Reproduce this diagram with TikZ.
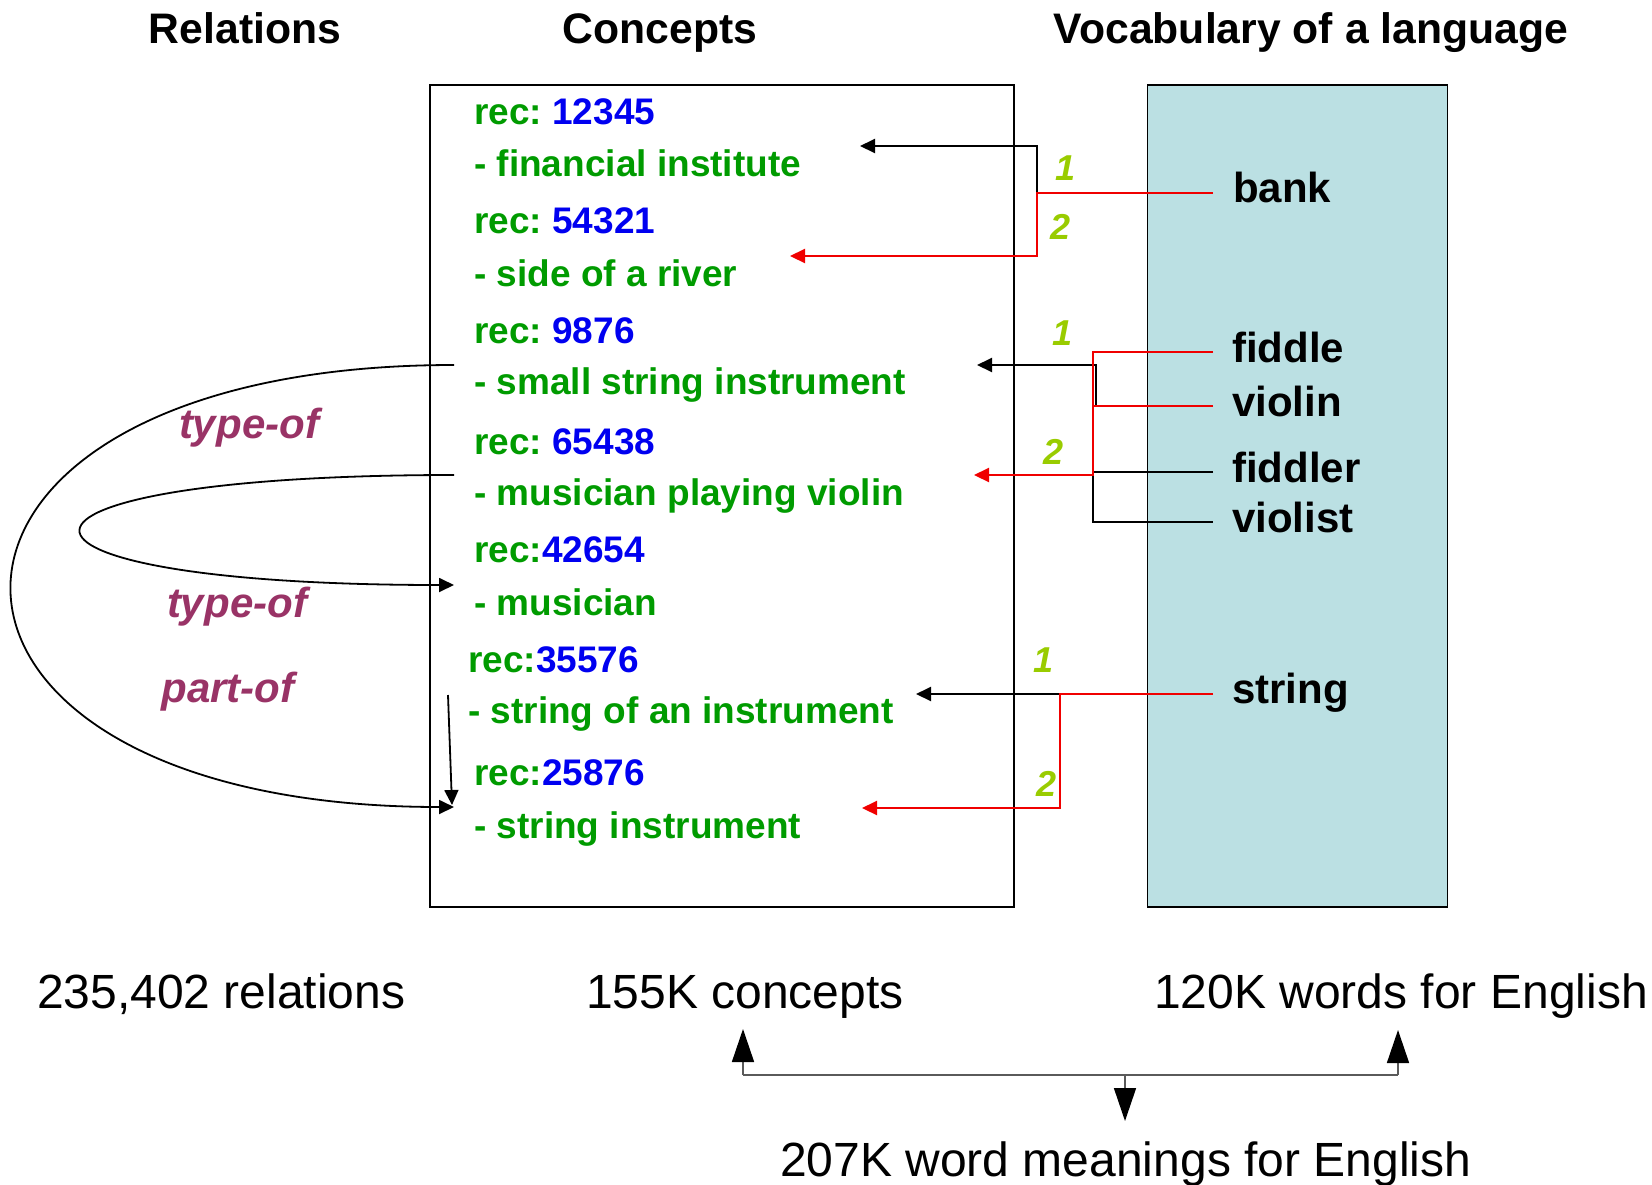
\documentclass[tikz,border=0pt]{standalone}
\usepackage{fontspec}
\setmainfont{Liberation Sans}
\usetikzlibrary{arrows.meta}
\frenchspacing
\definecolor{cgreen}{RGB}{0,155,0}
\definecolor{cblue}{RGB}{0,0,240}
\definecolor{cnum}{RGB}{153,204,0}
\definecolor{crel}{RGB}{153,51,102}
\definecolor{vocfill}{RGB}{187,224,227}
\definecolor{cred}{RGB}{240,0,0}
\definecolor{cgrey}{RGB}{90,90,90}
\tikzset{
  concept/.style={anchor=base west, inner sep=0pt, text=cgreen, font=\fontsize{37}{40}\selectfont\bfseries},
  word/.style={anchor=base west, inner sep=0pt, font=\fontsize{42}{46}\selectfont\bfseries},
  header/.style={anchor=base, inner sep=0pt, font=\fontsize{42.7}{46}\selectfont\bfseries},
  stat/.style={anchor=base west, inner sep=0pt, font=\fontsize{48}{52}\selectfont},
  num/.style={inner sep=0pt, text=cnum, font=\fontsize{36}{40}\selectfont\bfseries\itshape},
  rel/.style={inner sep=0pt, text=crel, font=\fontsize{42}{46}\selectfont\bfseries\itshape},
  blkarrow/.style={draw=black, line width=2pt, -{Triangle[length=15pt,width=14pt]}},
  redarrow/.style={draw=cred, line width=2.2pt, -{Triangle[length=15pt,width=14pt]}},
  blkline/.style={draw=black, line width=2pt},
  redline/.style={draw=cred, line width=2.2pt},
  relarrow/.style={draw=black, line width=1.8pt, -{Triangle[length=15pt,width=14pt]}},
  bigarrow/.style={draw=cgrey, line width=1.6pt, -{Triangle[length=33pt,width=22pt,color=black]}},
}
\begin{document}
\begin{tikzpicture}[x=1pt,y=-1pt]
\useasboundingbox (0,0) rectangle (1652,1184);

% headers
\node[header] (hrel) at (245,43) {Relations};
\node[header] (hcon) at (660,43) {Concepts};
\node[header] (hvoc) at (1311,43) {Vocabulary of a language};

% boxes
\node[draw, line width=1.8pt, minimum width=584pt, minimum height=822pt, inner sep=0pt, anchor=north west] (cbox) at (429,84) {};
\node[draw, fill=vocfill, line width=1.8pt, minimum width=300pt, minimum height=822pt, inner sep=0pt, anchor=north west] (vbox) at (1146.5,84) {};

% concept texts
\node[concept] (r1) at (474,124) {rec: \textcolor{cblue}{12345}};
\node[concept] (d1) at (474,176) {- financial institute};
\node[concept] (r2) at (474,233) {rec: \textcolor{cblue}{54321}};
\node[concept] (d2) at (474,286) {- side of a river};
\node[concept] (r3) at (474,343) {rec: \textcolor{cblue}{9876}};
\node[concept] (d3) at (474,394) {- small string instrument};
\node[concept] (r4) at (474,454) {rec: \textcolor{cblue}{65438}};
\node[concept] (d4) at (474,505) {- musician playing violin};
\node[concept] (r5) at (474,562) {rec:\textcolor{cblue}{42654}};
\node[concept] (d5) at (474,615) {- musician};
\node[concept] (r6) at (468,672) {rec:\textcolor{cblue}{35576}};
\node[concept] (d6) at (468,723) {- string of an instrument};
\node[concept] (r7) at (474,785) {rec:\textcolor{cblue}{25876}};
\node[concept] (d7) at (474,838) {- string instrument};

% vocabulary words
\node[word] (wbank) at (1233,202) {bank};
\node[word] (wfiddle) at (1232,362) {fiddle};
\node[word] (wviolin) at (1232,416) {violin};
\node[word] (wfiddler) at (1232,482) {fiddler};
\node[word] (wviolist) at (1232,532) {violist};
\node[word] (wstring) at (1232,703) {string};

% connector coordinates
\coordinate (bankE) at (1213,193);
\coordinate (bankJ) at (1037,193);
\coordinate (t1) at (860,146);
\coordinate (t2) at (790,256);
\coordinate (fiddleE) at (1213,352);
\coordinate (violinE) at (1213,406);
\coordinate (violinJ) at (1093,406);
\coordinate (violinJb) at (1096,406);
\coordinate (fJ) at (1093,475);
\coordinate (t3) at (977,365);
\coordinate (t4) at (974,475);
\coordinate (fiddlerE) at (1213,472);
\coordinate (violistE) at (1213,522);
\coordinate (violistJ) at (1093,522);
\coordinate (stringE) at (1213,694);
\coordinate (stringJb) at (1088,694);
\coordinate (stringJ) at (1060,808);
\coordinate (t5) at (916,694);
\coordinate (t6) at (862,808);

% bank
\draw[blkarrow] (bankJ) |- (t1);
\draw[redarrow] (bankE) -- (bankJ) |- (t2);
% fiddle / violin / fiddler / violist
\draw[blkarrow] (violinJb) |- (t3);
\draw[blkline] (fiddlerE) -| (violistJ) -- (violistE);
\draw[redarrow] (fiddleE) -| (fJ) -- (t4);
\draw[redline] (violinE) -- (violinJ);
% string
\draw[blkarrow] (stringJb) -- (t5);
\draw[redarrow] (stringE) -| (stringJ) -- (t6);

% sense numbers
\node[num] (n1a) at (1065,168) {1};
\node[num] (n1b) at (1060,227) {2};
\node[num] (n2a) at (1062,333) {1};
\node[num] (n2b) at (1053,452) {2};
\node[num] (n3a) at (1043,660) {1};
\node[num] (n3b) at (1046,784) {2};

% relations
\coordinate (s3) at (454,365);
\coordinate (s4) at (454,475);
\coordinate (e5) at (454,585);
\coordinate (e7) at (454,807);
\coordinate (s6) at (448,695);
\coordinate (e7b) at (452,805);
\draw[relarrow] (s3) .. controls (-135,365) and (-135,807) .. (e7);
\draw[relarrow] (s4) .. controls (-43,475) and (-43,585) .. (e5);
\draw[relarrow] (s6) -- (e7b);
\node[rel] (l1) at (249,428) {type-of};
\node[rel] (l2) at (237,607) {type-of};
\node[rel] (l3) at (228,692) {part-of};

% statistics
\node[stat] (srel) at (37,1008) {235,402 relations};
\node[stat] (scon) at (586,1008) {155K concepts};
\node[stat] (sword) at (1154,1008) {120K words for English};
\node[stat] (smean) at (780,1176) {207K word meanings for English};

\coordinate (bL) at (743,1075);
\coordinate (bR) at (1398,1075);
\coordinate (bM) at (1125,1075);
\coordinate (aL) at (743,1029);
\coordinate (aR) at (1398,1030);
\coordinate (aM) at (1125,1121);
\draw[draw=cgrey, line width=1.6pt] (bL) -- (bR);
\draw[bigarrow] (bL) -- (aL);
\draw[bigarrow] (bR) -- (aR);
\draw[bigarrow] (bM) -- (aM);
\end{tikzpicture}
\end{document}
